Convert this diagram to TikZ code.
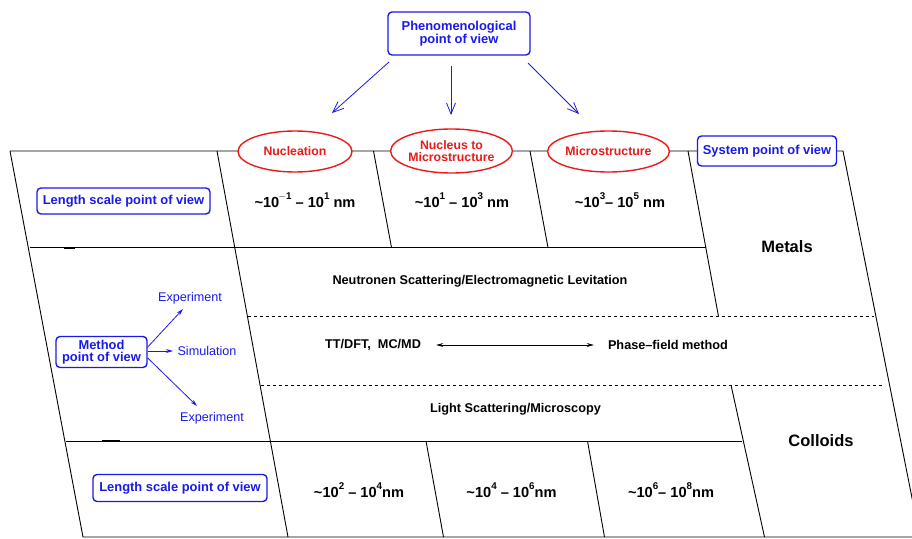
\documentclass[tikz,border=0pt]{standalone}
\usepackage{fontspec}
\setmainfont{Liberation Sans}
\usetikzlibrary{arrows.meta,shapes.geometric}
\definecolor{pblue}{RGB}{25,25,235}
\definecolor{pred}{RGB}{235,25,25}
\newcommand\sps[1]{\raisebox{1.0ex}{\fontsize{9.8}{9.8}\selectfont #1}}
\tikzset{
 gridline/.style={line width=0.9pt, black},
 dline/.style={line width=0.9pt, dash pattern=on 3pt off 3pt},
 bbox/.style={draw=pblue, fill=white, line width=1.4pt, rounded corners=4pt, text=pblue,
   font=\fontsize{12.9}{14}\selectfont\bfseries, align=center, inner sep=0pt},
 rell/.style={ellipse, draw=pred, fill=white, line width=1.4pt, text=pred, align=center,
   font=\fontsize{12.3}{12.5}\selectfont\bfseries, minimum width=114pt, minimum height=41pt, inner sep=0pt},
 celltext/.style={font=\fontsize{14.6}{16}\selectfont\bfseries, inner sep=0pt},
 mtext/.style={font=\fontsize{12.7}{14}\selectfont\bfseries, inner sep=0pt},
 btxt/.style={text=pblue, font=\fontsize{12.6}{14}\selectfont, inner sep=0pt},
 syslabel/.style={font=\fontsize{16.5}{18}\selectfont\bfseries, inner sep=0pt},
 parr/.style={draw=pblue, line width=0.8pt, -{Straight Barb[length=11pt,width=9pt]}},
 marr/.style={draw=pblue, line width=0.8pt, -{Stealth[length=7pt,width=4pt]}},
 karr/.style={draw=black, line width=0.8pt, {Stealth[length=7pt,width=4pt]}-{Stealth[length=7pt,width=4pt]}},
}
\begin{document}
\begin{tikzpicture}[x=1pt,y=-1pt]
\useasboundingbox (0,0) rectangle (912,538);
% grid outline
\draw[gridline] (10,151) -- (843,151) -- (920,538);
\draw[gridline] (10,151) -- (83,537) -- (918,537);
\draw[gridline] (30,247.5) -- (706,247.5);
\draw[gridline] (66,441) -- (742,441);
\draw[dline] (248,316.5) -- (874,316.5);
\draw[dline] (261,385) -- (884,385);
\draw[line width=2pt] (64,247.5) -- (75,247.5);
\draw[line width=2pt] (102,441) -- (120,441);
% slanted dividers
\draw[gridline] (217,151) -- (288,537);
\draw[gridline] (373.5,151) -- (391.5,247.5);
\draw[gridline] (530,151) -- (548,247.5);
\draw[gridline] (688,151) -- (718.5,316.5);
\draw[gridline] (731,385) -- (764.5,537);
\draw[gridline] (426,441) -- (443.5,537);
\draw[gridline] (587.5,441) -- (604.5,537);
% top nodes
\node[bbox, minimum width=142pt, minimum height=43pt] (phen) at (459,33.5)
  {Phenomenological\\[-0.5pt]point of view};
\node[rell] (nucl) at (295,151.5) {Nucleation};
\node[rell, minimum height=44pt] (n2m) at (451.5,151) {Nucleus to\\Microstructure};
\node[rell] (micro) at (608.5,151.5) {Microstructure};
\node[bbox, minimum width=139pt, minimum height=30pt] (sys) at (767,151) {System point of view};
\coordinate (a1s) at (389,62);  \coordinate (a1e) at (332,113);
\coordinate (a2s) at (451,66);  \coordinate (a2e) at (451,115);
\coordinate (a3s) at (528,63);  \coordinate (a3e) at (579,114);
\draw[parr] (a1s) -- (a1e);
\draw[parr] (a2s) -- (a2e);
\draw[parr] (a3s) -- (a3e);
% first row
\node[bbox, minimum width=173pt, minimum height=26pt] (lsv1) at (123.5,201) {Length scale point of view};
\node[celltext] (r1) at (305,200) {\textasciitilde10\sps{\kern-1pt$-$1} -- 10\sps{1} nm};
\node[celltext] (r2) at (462,200) {\textasciitilde10\sps{1} -- 10\sps{3} nm};
\node[celltext] (r3) at (620,200) {\textasciitilde10\sps{3}-- 10\sps{5} nm};
\node[syslabel] (metals) at (787,247) {Metals};
% method rows
\node[mtext] (neut) at (480,281) {Neutronen Scattering/Electromagnetic Levitation};
\node[mtext] (ttdft) at (373,345) {TT/DFT,\ \ MC/MD};
\node[mtext] (phase) at (668,345) {Phase--field method};
\path (ttdft.east) ++(15,0) coordinate (k1) (phase.west) ++(-14,0) coordinate (k2);
\draw[karr] (k1) -- (k2);
\node[mtext] (light) at (515.5,409) {Light Scattering/Microscopy};
\node[syslabel] (colloids) at (821,441) {Colloids};
\node[bbox, minimum width=91pt, minimum height=31pt, font=\fontsize{12.9}{12.3}\selectfont\bfseries] (meth) at (101.5,352)
  {Method\\point of view};
\node[btxt] (exp1) at (190,298) {Experiment};
\node[btxt] (sim) at (207,351) {Simulation};
\node[btxt] (exp2) at (212,418) {Experiment};
\coordinate (m1) at (183,309);
\coordinate (m2) at (173,351);
\coordinate (m3) at (197,406);
\draw[marr] (meth.east) ++(0,-5) -- (m1);
\draw[marr] (meth.east) ++(0,-1) -- (m2);
\draw[marr] (meth.east) ++(0,6) -- (m3);
% bottom row
\node[bbox, minimum width=174pt, minimum height=27pt] (lsv2) at (180,488) {Length scale point of view};
\node[celltext] (r4) at (359,490) {\textasciitilde10\sps{2} -- 10\sps{4}nm};
\node[celltext] (r5) at (511.5,490) {\textasciitilde10\sps{4} -- 10\sps{6}nm};
\node[celltext] (r6) at (671,490) {\textasciitilde10\sps{6}-- 10\sps{8}nm};
\end{tikzpicture}
\end{document}
